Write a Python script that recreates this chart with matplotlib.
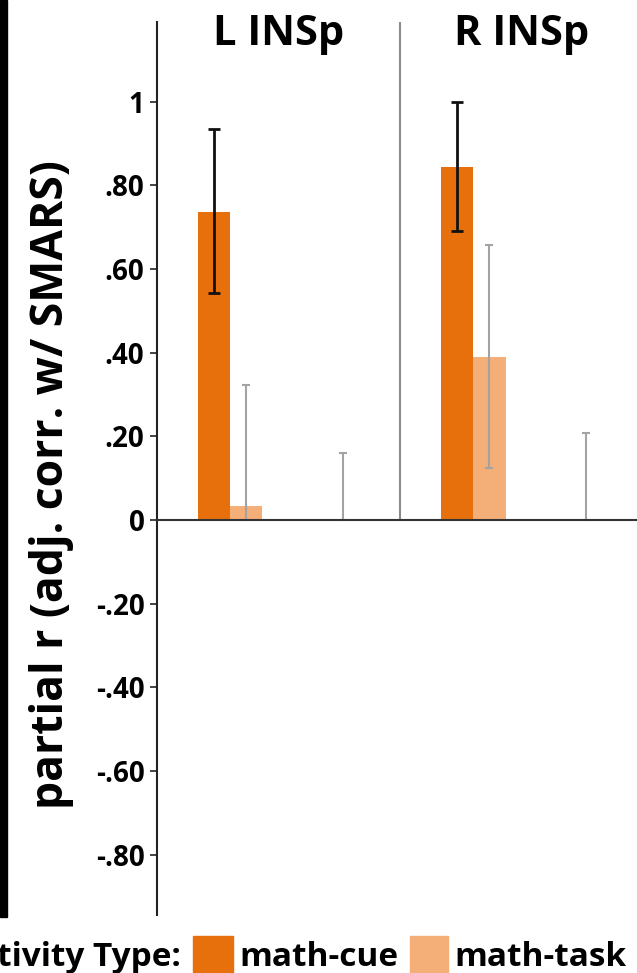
import numpy as np
import matplotlib.pyplot as plt
from matplotlib.patches import Rectangle
from matplotlib.transforms import blended_transform_factory

plt.rcParams['font.family'] = ['Open Sans', 'DejaVu Sans']

#--------------------------------------------------------------------------
# data
regions = ['L INSp', 'R INSp']
series = ['math-cue', 'math-task', 'other']

cue_r = [0.736, 0.844]
cue_lo = [0.542, 0.690]
cue_hi = [0.934, 0.999]

task_r = [0.033, 0.390]
task_lo = [0.0, 0.124]
task_hi = [0.322, 0.657]

other_r = [0.0, 0.0]
other_lo = [0.0, 0.0]
other_hi = [0.160, 0.208]

yticks = [1.0, 0.8, 0.6, 0.4, 0.2, 0.0, -0.2, -0.4, -0.6, -0.8]
ytick_labels = ['1', '.80', '.60', '.40', '.20', '0', '-.20', '-.40', '-.60', '-.80']

cue_col = '#E8700C'
task_col = '#F4AE78'
err_grey = '#A3A3A3'

#--------------------------------------------------------------------------
W, H = 637, 973
fig = plt.figure(figsize=(W / 100, H / 100), dpi=100)
ax = fig.add_axes([157 / W, 1 - 915 / H, 1 - 157 / W, (915 - 22) / H])

x = np.arange(len(regions))
bw = 0.132

def bars(vals, lo, hi, off, col, ecol, lw, cap):
    vals = np.array(vals)
    yerr = [vals - np.array(lo), np.array(hi) - vals]
    ax.bar(x + off * bw, vals, bw, color=col, zorder=2)
    ax.errorbar(x + off * bw, vals, yerr=yerr, fmt='none', ecolor=ecol,
                elinewidth=lw, capsize=cap, capthick=lw, zorder=3)

bars(cue_r, cue_lo, cue_hi, -2, cue_col, '#111111', 2.0, 4)
bars(task_r, task_lo, task_hi, -1, task_col, err_grey, 1.5, 3)
bars(other_r, other_lo, other_hi, 2, 'none', err_grey, 1.5, 3)

ax.set_xlim(-0.5, 1.475)
ax.set_ylim(-0.944, 1.19)

# zero line and group divider
ax.axhline(0, color='#333333', lw=1.5, zorder=4)
ax.plot([0.5, 0.5], [0, 1.19], color='#8C8C8C', lw=1.5, zorder=1)

for s in ['top', 'right', 'bottom']:
    ax.spines[s].set_visible(False)
ax.spines['left'].set_color('#222222')
ax.spines['left'].set_linewidth(1.5)
ax.set_xticks([])
ax.set_yticks(yticks)
ax.set_yticklabels(ytick_labels, fontsize=20, fontweight='bold')
ax.tick_params(axis='y', length=5, width=1.2, pad=4, color='#222222')

# region titles
tr = blended_transform_factory(ax.transData, fig.transFigure)
for i, name in enumerate(regions):
    ax.text(x[i], 1 - 45 / H, name, transform=tr, ha='center', va='baseline',
            fontsize=30, fontweight='bold')

fig.text(52 / W, 1 - 485 / H, 'partial r (adj. corr. w/ SMARS)', rotation=90,
         ha='center', va='center', fontsize=32, fontweight='bold')

# black stripe at left edge
fig.patches.append(Rectangle((0, 1 - 917 / H), 7 / W, 917 / H, transform=fig.transFigure,
                             color='black', zorder=5))

# legend row (cropped at the edges like the source)
base = 1 - 966 / H
fig.text(181 / W, base, 'Activity Type:', ha='right', va='baseline', fontsize=24,
         fontweight='bold')
fig.patches.append(Rectangle((193 / W, 1 - 974 / H), 40 / W, 38 / H,
                             transform=fig.transFigure, color=cue_col))
fig.text(239 / W, base, series[0], ha='left', va='baseline', fontsize=24,
         fontweight='bold')
fig.patches.append(Rectangle((410 / W, 1 - 974 / H), 38 / W, 38 / H,
                             transform=fig.transFigure, color=task_col))
fig.text(454 / W, base, series[1], ha='left', va='baseline', fontsize=24,
         fontweight='bold')

fig.savefig('out.png', dpi=100)
